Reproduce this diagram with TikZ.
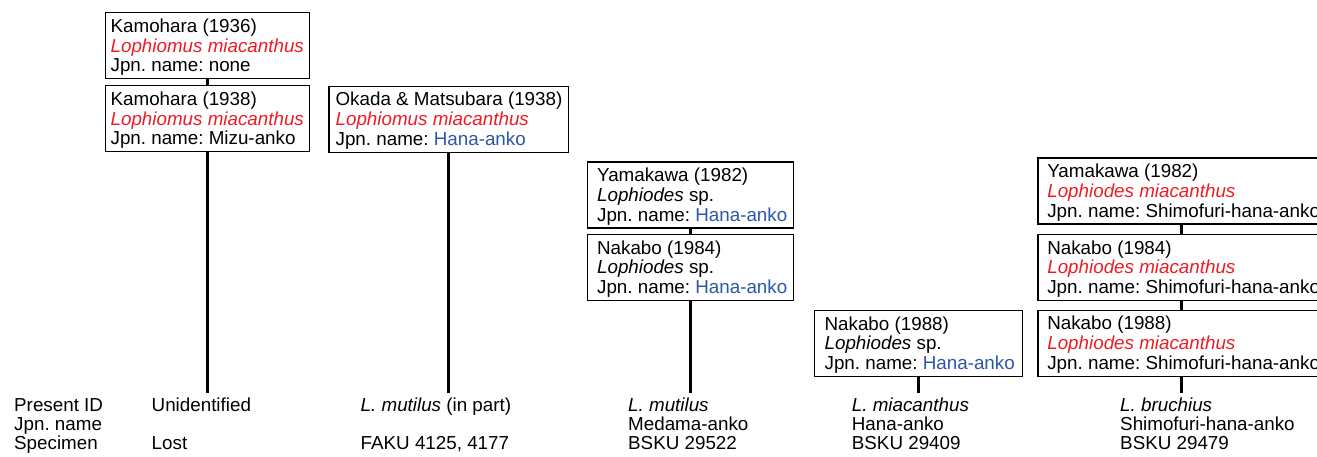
\documentclass[tikz,border=0pt]{standalone}
\usepackage{fontspec}
\setmainfont{Liberation Sans}
\definecolor{tred}{RGB}{237,28,36}
\definecolor{tblue}{RGB}{44,86,168}
\newcommand\fsz{\fontsize{18.8}{19.8}\selectfont\frenchspacing}
\newcommand\tri[3]{\mbox{\rule{0pt}{19.5pt}#1}\\\mbox{#2}\\\mbox{#3\rule[-6.9pt]{0pt}{6.9pt}}}
\newcommand\rsp[1]{\textcolor{tred}{\itshape #1}}
\newcommand\bsp[1]{\textcolor{tblue}{#1}}
\tikzset{
  refbox/.style={draw, line width=1.2pt, anchor=north west, align=flush left,
    inner ysep=0pt, font=\fsz},
  link/.style={line width=3pt},
  lab/.style={anchor=base west, inner sep=0pt, font=\fsz}
}
\begin{document}
\begin{tikzpicture}[x=1pt,y=-1pt]
\useasboundingbox (0,0) rectangle (1317,457);
\clip (0,0) rectangle (1317,457);
% boxes
\node[refbox, inner xsep=5.5pt, text width=193pt] (a) at (104.5,12.3)
  {\tri{Kamohara (1936)}{\rsp{Lophiomus miacanthus}}{Jpn. name: none}};
\node[refbox, inner xsep=5.5pt, text width=193pt] (b) at (104.5,85.3)
  {\tri{Kamohara (1938)}{\rsp{Lophiomus miacanthus}}{Jpn. name: Mizu-anko}};
\node[refbox, inner xsep=6.7pt, text width=226pt] (c) at (328.3,85.7)
  {\tri{Okada \& Matsubara (1938)}{\rsp{Lophiomus miacanthus}}{Jpn. name: \bsp{Hana-anko}}};
\node[refbox, inner xsep=10pt, text width=186.5pt] (d) at (586.5,161.5)
  {\tri{Yamakawa (1982)}{\textit{Lophiodes} sp.}{Jpn. name: \bsp{Hana-anko}}};
\node[refbox, inner xsep=10pt, text width=186.5pt] (e) at (586.5,234)
  {\tri{Nakabo (1984)}{\textit{Lophiodes} sp.}{Jpn. name: \bsp{Hana-anko}}};
\node[refbox, inner xsep=10pt, text width=187.7pt] (f) at (814,310)
  {\tri{Nakabo (1988)}{\textit{Lophiodes} sp.}{Jpn. name: \bsp{Hana-anko}}};
\node[refbox, inner xsep=9.4pt, text width=268.6pt] (g) at (1037.3,157.5)
  {\tri{Yamakawa (1982)}{\rsp{Lophiodes miacanthus}}{Jpn. name: Shimofuri-hana-anko}};
\node[refbox, inner xsep=9.4pt, text width=268.6pt] (h) at (1037.3,234)
  {\tri{Nakabo (1984)}{\rsp{Lophiodes miacanthus}}{Jpn. name: Shimofuri-hana-anko}};
\node[refbox, inner xsep=9.4pt, text width=268.6pt] (i) at (1037.3,309.5)
  {\tri{Nakabo (1988)}{\rsp{Lophiodes miacanthus}}{Jpn. name: Shimofuri-hana-anko}};
% end coordinates
\coordinate (eb) at (b.south |- 0,393);
\coordinate (ec) at (c.south |- 0,393);
\coordinate (ee) at (e.south |- 0,393);
\coordinate (ef) at (f.south |- 0,393);
\coordinate (ei) at (i.south |- 0,393);
% connectors
\draw[link] (a.south) -- (b.north);
\draw[link] (b.south) -- (eb);
\draw[link] (c.south) -- (ec);
\draw[link] (d.south) -- (e.north);
\draw[link] (e.south) -- (ee);
\draw[link] (f.south) -- (ef);
\draw[link] (g.south) -- (h.north);
\draw[link] (h.south) -- (i.north);
\draw[link] (i.south) -- (ei);
% bottom table
\node[lab] (r1) at (14,411) {Present ID};
\node[lab] (r2) at (14,430) {Jpn. name};
\node[lab] (r3) at (14,449.5) {Specimen};
\node[lab] (u1) at (151.5,411) {Unidentified};
\node[lab] (u3) at (151.5,449.5) {Lost};
\node[lab] (m1) at (360.5,411) {\textit{L. mutilus} (in part)};
\node[lab] (m3) at (360.5,449.5) {FAKU 4125, 4177};
\node[lab] (n1) at (628,411) {\textit{L. mutilus}};
\node[lab] (n2) at (628,430) {Medama-anko};
\node[lab] (n3) at (628,449.5) {BSKU 29522};
\node[lab] (p1) at (851.7,411) {\textit{L. miacanthus}};
\node[lab] (p2) at (851.7,430) {Hana-anko};
\node[lab] (p3) at (851.7,449.5) {BSKU 29409};
\node[lab] (q1) at (1120,411) {\textit{L. bruchius}};
\node[lab] (q2) at (1120,430) {Shimofuri-hana-anko};
\node[lab] (q3) at (1120,449.5) {BSKU 29479};
\end{tikzpicture}
\end{document}
